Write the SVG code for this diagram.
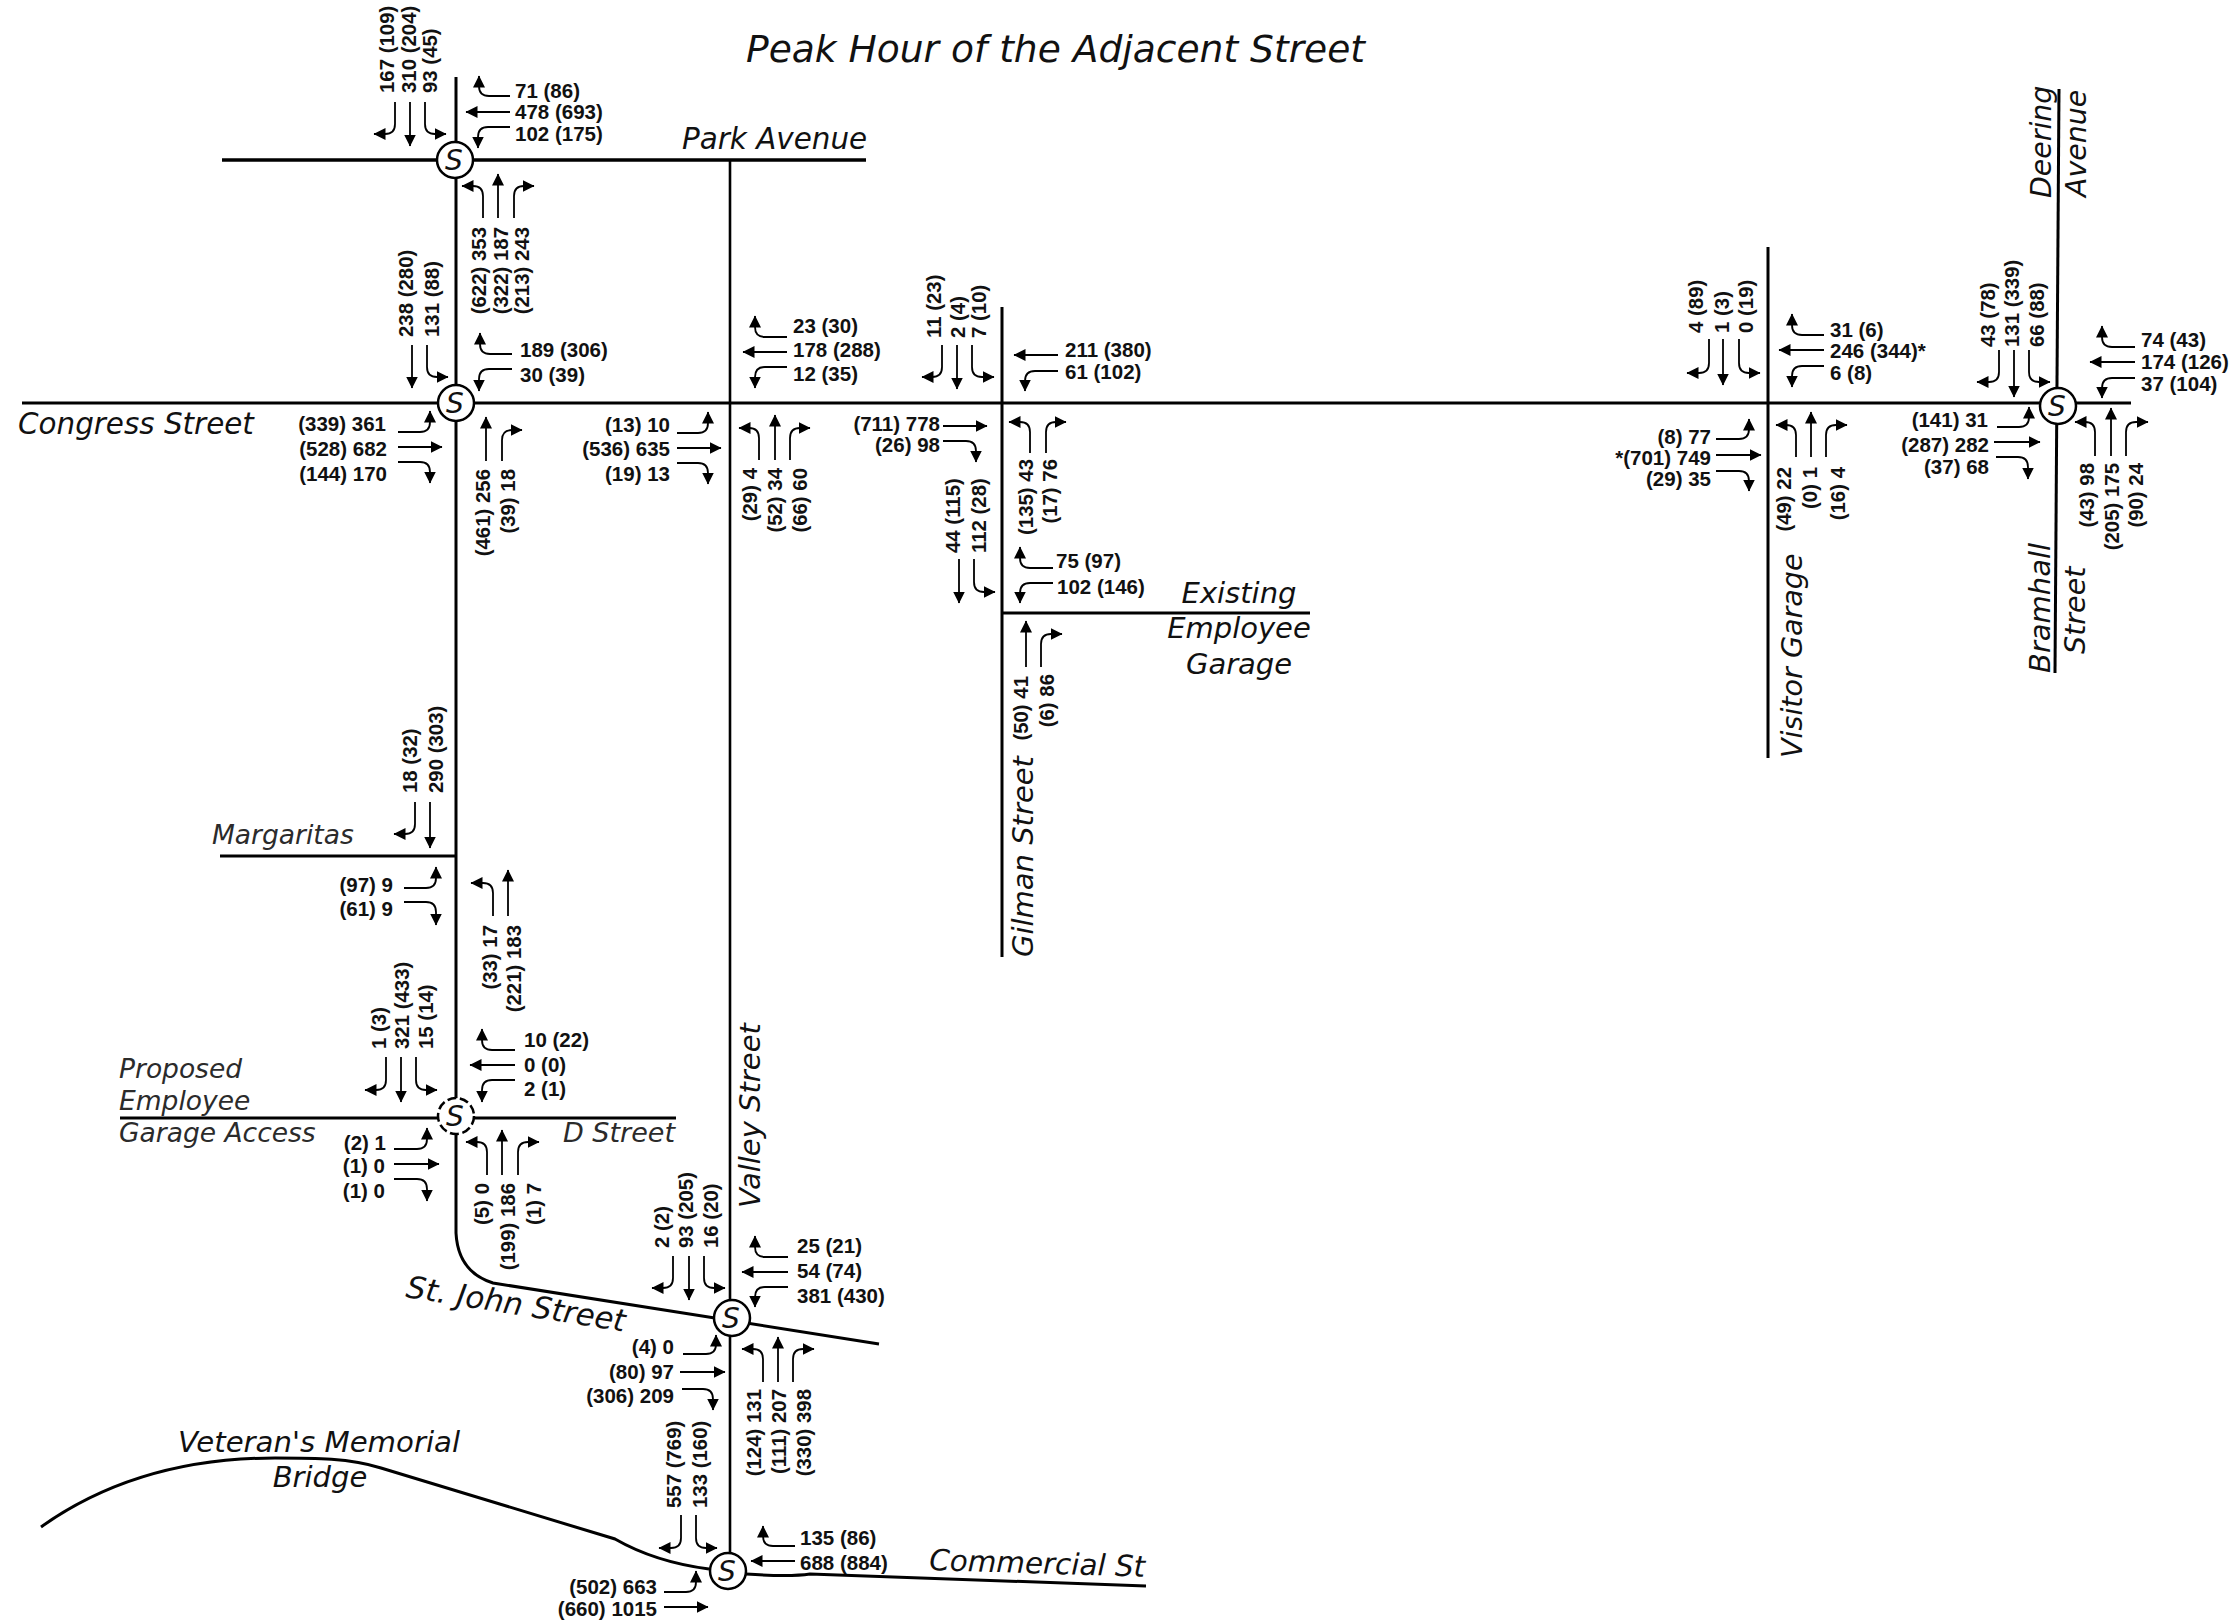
<svg xmlns="http://www.w3.org/2000/svg" width="2236" height="1623" viewBox="0 0 2236 1623">
<style>
.v{font:bold 20.5px "Liberation Sans",Arial,sans-serif;fill:#111}
text.v[transform]{font-size:20.4px}
.e{text-anchor:end}
.n{font:italic 29px "DejaVu Sans",Verdana,sans-serif;fill:#111}
text.n[transform]{font-size:28.6px}
.g{font-size:26.5px;fill:#2b2b2b}
.c{text-anchor:middle}
.r{fill:none;stroke:#000;stroke-width:3}
#connectors path{fill:none;stroke:#000;stroke-width:1.8;marker-end:url(#h)}
.sig{fill:#fff;stroke:#000;stroke-width:2.5}
.d{stroke-dasharray:9 3.6}
.sl{font:italic 28px "DejaVu Sans",Verdana,sans-serif;text-anchor:middle;fill:#111}
</style>
<defs>
<marker id="h" markerUnits="userSpaceOnUse" markerWidth="13" markerHeight="13" refX="11.5" refY="6" orient="auto"><path d="M0,0L12,6L0,12Z" fill="#000"/></marker>
</defs>
<rect width="2236" height="1623" fill="#fff"/>
<text id="title" class="n" style="font-size:37.6px" x="746" y="62">Peak Hour of the Adjacent Street</text>
<g id="roads">
<path class="r" style="stroke-width:3.5" d="M222 160H866"/>
<path class="r" d="M22 403H2131"/>
<path class="r" d="M456 77V1233Q458 1272 493 1283L879 1344"/>
<path class="r" style="stroke-width:2.6" d="M730 160V1571"/>
<path class="r" d="M1002 307V957"/>
<path class="r" d="M1002 613H1310"/>
<path class="r" d="M1768 247V758"/>
<path class="r" d="M2059 89L2055 673"/>
<path class="r" d="M220 856H456"/>
<path class="r" d="M120 1118H676"/>
<path class="r" d="M41 1527C110 1478 190 1458 275 1458C315 1458 350 1458 381 1468L615 1539Q655 1562 709 1569"/>
<path class="r" d="M746 1574Q790 1577 810 1574L1146 1586"/>
</g>
<g id="connectors">
<path d="M395 102V124Q395 134 385 134H374"/><path d="M410 102V146"/><path d="M425 102V124Q425 134 435 134H446"/>
<path d="M510 96H489Q479 96 479 86V76"/><path d="M510 112H466"/><path d="M510 127H488Q478 127 478 137V148"/>
<path d="M483 218V196Q483 186 473 186H462"/><path d="M498 218V174"/><path d="M514 218V196Q514 186 524 186H534"/>
<path d="M412 345V388"/><path d="M427 345V367Q427 377 437 377H448"/>
<path d="M512 354H490Q480 354 480 344V333"/><path d="M512 369H489Q479 369 479 379V391"/>
<path d="M398 432H420Q430 432 430 422V411"/><path d="M398 447H442"/><path d="M398 462H420Q430 462 430 472V483"/>
<path d="M486 461V417"/><path d="M502 461V440Q502 430 512 430H522"/>
<path d="M787 337H765Q755 337 755 327V316"/><path d="M787 352H743"/><path d="M787 367H765Q755 367 755 377V388"/>
<path d="M677 433H698Q708 433 708 423V412"/><path d="M677 448H721"/><path d="M677 463H698Q708 463 708 473V484"/>
<path d="M759 460V438Q759 428 749 428H739"/><path d="M775 460V415"/><path d="M790 460V438Q790 428 800 428H810"/>
<path d="M942 345V367Q942 377 932 377H922"/><path d="M957 345V389"/><path d="M972 345V367Q972 377 982 377H994"/>
<path d="M1058 355H1014"/><path d="M1058 371H1035Q1025 371 1025 381V391"/>
<path d="M943 426H987"/><path d="M943 441H966Q976 441 976 451V462"/>
<path d="M1030 453V432Q1030 422 1020 422H1009"/><path d="M1046 453V432Q1046 422 1056 422H1066"/>
<path d="M959 559V603"/><path d="M974 559V582Q974 592 984 592H995"/>
<path d="M1053 568H1030Q1020 568 1020 558V547"/><path d="M1053 583H1030Q1020 583 1020 593V603"/>
<path d="M1026 667V621"/><path d="M1041 667V644Q1041 634 1051 634H1062"/>
<path d="M1709 339V363Q1709 373 1699 373H1687"/><path d="M1723 339V385"/><path d="M1739 339V363Q1739 373 1749 373H1760"/>
<path d="M1824 335H1802Q1792 335 1792 325V314"/><path d="M1824 350H1779"/><path d="M1824 366H1802Q1792 366 1792 376V387"/>
<path d="M1716 439H1739Q1749 439 1749 429V419"/><path d="M1716 455H1761"/><path d="M1716 471H1739Q1749 471 1749 481V491"/>
<path d="M1796 457V435Q1796 425 1786 425H1776"/><path d="M1811 457V412"/><path d="M1826 457V435Q1826 425 1836 425H1847"/>
<path d="M1999 350V372Q1999 382 1989 382H1977"/><path d="M2014 350V397"/><path d="M2029 350V372Q2029 382 2039 382H2050"/>
<path d="M2135 347H2112Q2102 347 2102 337V326"/><path d="M2135 362H2090"/><path d="M2135 378H2112Q2102 378 2102 388V398"/>
<path d="M1997 427H2019Q2029 427 2029 417V407"/><path d="M1994 442H2040"/><path d="M1996 457H2018Q2028 457 2028 467V479"/>
<path d="M2095 456V432Q2095 422 2085 422H2075"/><path d="M2111 456V408"/><path d="M2126 456V432Q2126 422 2136 422H2148"/>
<path d="M415 802V824Q415 834 405 834H394"/><path d="M430 802V848"/>
<path d="M404 888H426Q436 888 436 878V867"/><path d="M404 902H426Q436 902 436 912V925"/>
<path d="M493 916V893Q493 883 483 883H471"/><path d="M508 916V870"/>
<path d="M386 1057V1080Q386 1090 376 1090H365"/><path d="M401 1057V1102"/><path d="M416 1057V1080Q416 1090 426 1090H437"/>
<path d="M515 1050H492Q482 1050 482 1040V1029"/><path d="M515 1065H470"/><path d="M515 1080H492Q482 1080 482 1090V1102"/>
<path d="M394 1149H417Q427 1149 427 1139V1128"/><path d="M394 1164H439"/><path d="M394 1179H417Q427 1179 427 1189V1201"/>
<path d="M487 1175V1152Q487 1142 477 1142H466"/><path d="M502 1175V1130"/><path d="M518 1175V1152Q518 1142 528 1142H539"/>
<path d="M673 1256V1278Q673 1288 663 1288H652"/><path d="M689 1256V1300"/><path d="M704 1256V1278Q704 1288 714 1288H725"/>
<path d="M788 1257H765Q755 1257 755 1247V1236"/><path d="M788 1272H742"/><path d="M788 1287H765Q755 1287 755 1297V1307"/>
<path d="M683 1354H706Q716 1354 716 1344V1335"/><path d="M680 1372H725"/><path d="M682 1389H703Q713 1389 713 1399V1410"/>
<path d="M763 1382V1359Q763 1349 753 1349H742"/><path d="M778 1382V1337"/><path d="M793 1382V1359Q793 1349 803 1349H814"/>
<path d="M681 1515V1538Q681 1548 671 1548H659"/><path d="M696 1515V1538Q696 1548 706 1548H717"/>
<path d="M795 1546H773Q763 1546 763 1536V1526"/><path d="M795 1561H751"/>
<path d="M664 1592H686Q696 1592 696 1582V1571"/><path d="M664 1607H708"/>
</g>
<g id="int-park">
<circle class="sig" cx="455" cy="160" r="18"/><text class="sl" x="454" y="170">S</text>
<text class="v" transform="translate(394,93) rotate(-90)">167 (109)</text>
<text class="v" transform="translate(416,93) rotate(-90)">310 (204)</text>
<text class="v" transform="translate(437,93) rotate(-90)">93 (45)</text>
<text class="v" x="515" y="98">71 (86)</text>
<text class="v" x="515" y="119">478 (693)</text>
<text class="v" x="515" y="141">102 (175)</text>
<text class="v e" transform="translate(486,227) rotate(-90)">(622) 353</text>
<text class="v e" transform="translate(508,227) rotate(-90)">(322) 187</text>
<text class="v e" transform="translate(529,227) rotate(-90)">(213) 243</text>
<text class="n" style="font-size:29.4px" x="682" y="149">Park Avenue</text>
</g>
<g id="int-congress">
<circle class="sig" cx="456" cy="403" r="18"/><text class="sl" x="455" y="413">S</text>
<text class="v" transform="translate(413,337) rotate(-90)">238 (280)</text>
<text class="v" transform="translate(439,337) rotate(-90)">131 (88)</text>
<text class="v" x="520" y="357">189 (306)</text>
<text class="v" x="520" y="382">30 (39)</text>
<text class="v e" x="386" y="431">(339) 361</text>
<text class="v e" x="387" y="456">(528) 682</text>
<text class="v e" x="387" y="481">(144) 170</text>
<text class="v e" transform="translate(490,469) rotate(-90)">(461) 256</text>
<text class="v e" transform="translate(515,469) rotate(-90)">(39) 18</text>
<text class="n" style="font-size:29.4px" x="18" y="434">Congress Street</text>
</g>
<g id="int-valley">
<text class="v" x="793" y="333">23 (30)</text>
<text class="v" x="793" y="357">178 (288)</text>
<text class="v" x="793" y="381">12 (35)</text>
<text class="v e" x="670" y="432">(13) 10</text>
<text class="v e" x="670" y="456">(536) 635</text>
<text class="v e" x="670" y="481">(19) 13</text>
<text class="v e" transform="translate(757,468) rotate(-90)">(29) 4</text>
<text class="v e" transform="translate(782,468) rotate(-90)">(52) 34</text>
<text class="v e" transform="translate(807,468) rotate(-90)">(66) 60</text>
<text class="n" style="font-size:29px" transform="translate(760,1208) rotate(-90)">Valley Street</text>
</g>
<g id="int-gilman">
<text class="v" transform="translate(941,338) rotate(-90)">11 (23)</text>
<text class="v" transform="translate(965,338) rotate(-90)">2 (4)</text>
<text class="v" transform="translate(986,338) rotate(-90)">7 (10)</text>
<text class="v" x="1065" y="357">211 (380)</text>
<text class="v" x="1065" y="379">61 (102)</text>
<text class="v e" x="940" y="431">(711) 778</text>
<text class="v e" x="940" y="452">(26) 98</text>
<text class="v e" transform="translate(1033,459) rotate(-90)">(135) 43</text>
<text class="v e" transform="translate(1057,459) rotate(-90)">(17) 76</text>
<text class="v" transform="translate(960,553) rotate(-90)">44 (115)</text>
<text class="v" transform="translate(986,553) rotate(-90)">112 (28)</text>
<text class="v" x="1056" y="568">75 (97)</text>
<text class="v" x="1057" y="594">102 (146)</text>
<text class="v e" transform="translate(1028,676) rotate(-90)">(50) 41</text>
<text class="v e" transform="translate(1054,674) rotate(-90)">(6) 86</text>
<text class="n c" x="1239" y="603">Existing</text>
<text class="n c" x="1239" y="638">Employee</text>
<text class="n c" x="1239" y="674">Garage</text>
<text class="n" style="font-size:29px" transform="translate(1033,957) rotate(-90)">Gilman Street</text>
</g>
<g id="int-visitor">
<text class="v" transform="translate(1703,333) rotate(-90)">4 (89)</text>
<text class="v" transform="translate(1729,333) rotate(-90)">1 (3)</text>
<text class="v" transform="translate(1753,333) rotate(-90)">0 (19)</text>
<text class="v" x="1830" y="337">31 (6)</text>
<text class="v" x="1830" y="358">246 (344)*</text>
<text class="v" x="1830" y="380">6 (8)</text>
<text class="v e" x="1711" y="444">(8) 77</text>
<text class="v e" x="1711" y="465">*(701) 749</text>
<text class="v e" x="1711" y="486">(29) 35</text>
<text class="v e" transform="translate(1791,467) rotate(-90)">(49) 22</text>
<text class="v e" transform="translate(1817,467) rotate(-90)">(0) 1</text>
<text class="v e" transform="translate(1845,467) rotate(-90)">(16) 4</text>
<text class="n" transform="translate(1802,758) rotate(-90)">Visitor Garage</text>
</g>
<g id="int-deering">
<circle class="sig" cx="2058" cy="406" r="18"/><text class="sl" x="2057" y="416">S</text>
<text class="v" transform="translate(1995,347) rotate(-90)">43 (78)</text>
<text class="v" transform="translate(2019,347) rotate(-90)">131 (339)</text>
<text class="v" transform="translate(2044,347) rotate(-90)">66 (88)</text>
<text class="v" x="2141" y="347">74 (43)</text>
<text class="v" x="2141" y="369">174 (126)</text>
<text class="v" x="2141" y="391">37 (104)</text>
<text class="v e" x="1988" y="427">(141) 31</text>
<text class="v e" x="1989" y="452">(287) 282</text>
<text class="v e" x="1989" y="474">(37) 68</text>
<text class="v e" transform="translate(2094,463) rotate(-90)">(43) 98</text>
<text class="v e" transform="translate(2119,463) rotate(-90)">(205) 175</text>
<text class="v e" transform="translate(2143,463) rotate(-90)">(90) 24</text>
<text class="n" style="font-size:28.4px" transform="translate(2051,198) rotate(-90)">Deering</text>
<text class="n" style="font-size:28.4px" transform="translate(2086,197) rotate(-90)">Avenue</text>
<text class="n" style="font-size:29px" transform="translate(2050,673) rotate(-90)">Bramhall</text>
<text class="n" transform="translate(2085,654) rotate(-90)">Street</text>
</g>
<g id="int-margaritas">
<text class="v" transform="translate(417,793) rotate(-90)">18 (32)</text>
<text class="v" transform="translate(443,793) rotate(-90)">290 (303)</text>
<text class="v e" x="393" y="892">(97) 9</text>
<text class="v e" x="393" y="916">(61) 9</text>
<text class="v e" transform="translate(497,925) rotate(-90)">(33) 17</text>
<text class="v e" transform="translate(521,925) rotate(-90)">(221) 183</text>
<text class="n g" x="212" y="844">Margaritas</text>
</g>
<g id="int-dstreet">
<circle class="sig d" cx="456" cy="1116" r="18"/><text class="sl" x="455" y="1126">S</text>
<text class="v" transform="translate(386,1049) rotate(-90)">1 (3)</text>
<text class="v" transform="translate(409,1049) rotate(-90)">321 (433)</text>
<text class="v" transform="translate(433,1049) rotate(-90)">15 (14)</text>
<text class="v" x="524" y="1047">10 (22)</text>
<text class="v" x="524" y="1072">0 (0)</text>
<text class="v" x="524" y="1096">2 (1)</text>
<text class="v e" x="386" y="1150">(2) 1</text>
<text class="v e" x="385" y="1173">(1) 0</text>
<text class="v e" x="385" y="1198">(1) 0</text>
<text class="v e" transform="translate(489,1183) rotate(-90)">(5) 0</text>
<text class="v e" transform="translate(515,1183) rotate(-90)">(199) 186</text>
<text class="v e" transform="translate(541,1183) rotate(-90)">(1) 7</text>
<text class="n g" x="119" y="1078">Proposed</text>
<text class="n g" x="119" y="1110">Employee</text>
<text class="n g" x="119" y="1142">Garage Access</text>
<text class="n g" style="font-size:27px" x="563" y="1142">D Street</text>
</g>
<g id="int-stjohn">
<circle class="sig" cx="732" cy="1318" r="18"/><text class="sl" x="731" y="1328">S</text>
<text class="v" transform="translate(669,1248) rotate(-90)">2 (2)</text>
<text class="v" transform="translate(693,1248) rotate(-90)">93 (205)</text>
<text class="v" transform="translate(718,1248) rotate(-90)">16 (20)</text>
<text class="v" x="797" y="1253">25 (21)</text>
<text class="v" x="797" y="1278">54 (74)</text>
<text class="v" x="797" y="1303">381 (430)</text>
<text class="v e" x="674" y="1354">(4) 0</text>
<text class="v e" x="674" y="1379">(80) 97</text>
<text class="v e" x="674" y="1403">(306) 209</text>
<text class="v e" transform="translate(761,1389) rotate(-90)">(124) 131</text>
<text class="v e" transform="translate(786,1389) rotate(-90)">(111) 207</text>
<text class="v e" transform="translate(811,1389) rotate(-90)">(330) 398</text>
<text class="n" style="font-size:30.7px" transform="translate(405,1297) rotate(9)">St. John Street</text>
</g>
<g id="int-commercial">
<circle class="sig" cx="728" cy="1571" r="18"/><text class="sl" x="727" y="1581">S</text>
<text class="v" transform="translate(681,1508) rotate(-90)">557 (769)</text>
<text class="v" transform="translate(707,1508) rotate(-90)">133 (160)</text>
<text class="v" x="800" y="1545">135 (86)</text>
<text class="v" x="800" y="1570">688 (884)</text>
<text class="v e" x="657" y="1594">(502) 663</text>
<text class="v e" x="657" y="1616">(660) 1015</text>
<text class="n" style="font-size:29.4px" transform="translate(929,1570) rotate(1.8)">Commercial St</text>
<text class="n c" style="font-size:29.2px" x="319" y="1452">Veteran's Memorial</text>
<text class="n c" x="320" y="1487">Bridge</text>
</g>
</svg>
